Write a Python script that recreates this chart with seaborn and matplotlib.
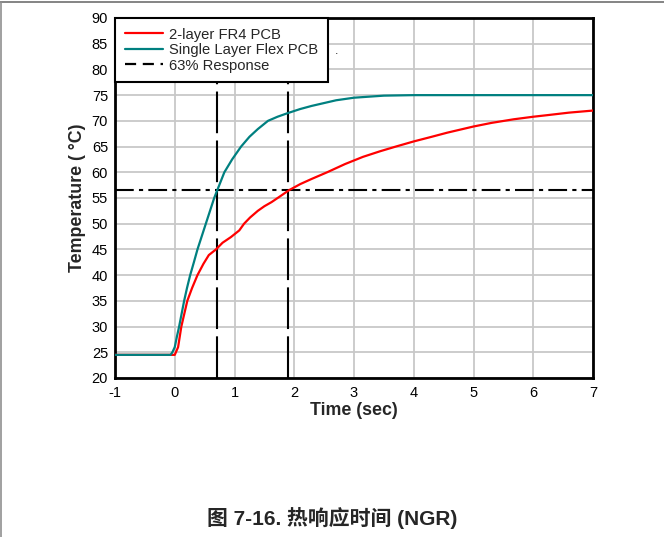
import numpy as np
import pandas as pd
import matplotlib
matplotlib.use("Agg")
import matplotlib.pyplot as plt
import seaborn as sns
from matplotlib.lines import Line2D

# valores
t_fr4 = [-1, 0, 0.056, 0.11, 0.16, 0.21, 0.29, 0.38, 0.48, 0.57, 0.69, 0.8, 0.94, 1.08, 1.16,
         1.26, 1.39, 1.5, 1.62, 1.76, 1.91, 2.1, 2.29, 2.55, 2.85, 3.15, 3.44, 3.7, 4.0,
         4.3, 4.56, 5.0, 5.3, 5.67, 6.0, 6.23, 6.6, 7.0]
temp_fr4 = [24.5, 24.5, 26, 30, 32.5, 35, 37.5, 40, 42.2, 43.9, 45, 46.3, 47.4, 48.7, 50,
            51.2, 52.5, 53.4, 54.2, 55.3, 56.5, 57.7, 58.7, 60.0, 61.6, 63.0, 64.1, 65.0, 66.0,
            66.9, 67.7, 68.9, 69.6, 70.3, 70.8, 71.1, 71.6, 72.0]
t_flex = [-1, -0.07, -0.04, 0.0, 0.035, 0.073, 0.115, 0.157, 0.205, 0.258, 0.32, 0.38,
          0.45, 0.52, 0.59, 0.66, 0.745, 0.83, 0.96, 1.11, 1.25, 1.39, 1.56, 1.72, 1.89,
          2.1, 2.29, 2.7, 3.0, 3.5, 4.0, 7.0]
temp_flex = [24.5, 24.5, 25, 26, 28, 30, 32.5, 35, 37.5, 40, 42.5, 45,
             47.5, 50, 52.5, 55, 57.5, 60, 62.5, 65, 66.9, 68.4, 70.0, 70.8, 71.5,
             72.3, 72.9, 74.0, 74.5, 74.9, 75, 75]
t_63 = [0.703, 1.9]
temp_63 = 56.5

nombres = ["2-layer FR4 PCB", "Single Layer Flex PCB", "63% Response"]
colores = ["#ff0000", "#008080", "black"]

datos = pd.concat([
    pd.DataFrame({"t": t_fr4, "temp": temp_fr4, "serie": nombres[0]}),
    pd.DataFrame({"t": t_flex, "temp": temp_flex, "serie": nombres[1]}),
])

sns.set_style("white")
plt.rcParams['font.family'] = ['Liberation Sans', 'Noto Sans CJK SC', 'DejaVu Sans']
plt.rcParams['axes.unicode_minus'] = False

fig = plt.figure(figsize=(6.64, 5.37), dpi=100)
ax = fig.add_axes([0.1732, 0.2961, 0.7199, 0.6704])

ax.grid(True, color="#c8c8c8", linewidth=1.3)
ax.set_axisbelow(True)

for t in t_63:
    ax.axvline(t, color="black", linewidth=1.5, linestyle=(0, (20, 3.5)), zorder=3)
ax.axhline(temp_63, color="black", linewidth=1.5, linestyle=(0, (9, 2.5, 2, 2.5)), zorder=3)

sns.lineplot(data=datos, x="t", y="temp", hue="serie", palette=colores[:2],
             linewidth=1.6, ax=ax, legend=False, zorder=4)

ax.set_xlim(-1, 7)
ax.set_ylim(20, 90)
ax.set_xticks(range(-1, 8))
ax.set_yticks(range(20, 91, 5))
ax.tick_params(axis="x", length=0, labelsize=10.5, pad=6, colors="black")
ax.tick_params(axis="y", length=0, labelsize=10.5, pad=5, colors="black")
for s in ax.spines.values():
    s.set_visible(True)
    s.set_color("black")
    s.set_linewidth(2)

ax.set_xlabel("Time (sec)", fontsize=12.8, fontweight="bold", labelpad=1)
ax.set_ylabel("Temperature ( °C)", fontsize=12.8, fontweight="bold", labelpad=4)

manejadores = [Line2D([0], [0], color=colores[0], linewidth=1.6),
               Line2D([0], [0], color=colores[1], linewidth=1.6),
               Line2D([0], [0], color="black", linewidth=1.6, linestyle=(0, (5, 3)))]
leyenda = ax.legend(manejadores, nombres, loc="upper left", fontsize=10.6, frameon=True,
                    fancybox=False, framealpha=1, edgecolor="black", borderpad=0.65,
                    labelspacing=0.1, handlelength=2.6, handletextpad=0.45,
                    borderaxespad=0.0)
leyenda.get_frame().set_linewidth(1.5)
leyenda.set_zorder(6)
ax.text(0.46, 0.9, ".", transform=ax.transAxes, fontsize=9)

fig.text(0.5, 0.035, "图 7-16. 热响应时间 (NGR)", ha="center", va="center",
         fontsize=15, fontweight="bold")

# marco de la pagina
fig.add_artist(Line2D([0, 1], [0.996, 0.996], color="#707070", linewidth=1.2))
fig.add_artist(Line2D([0.001, 0.001], [0, 0.996], color="#909090", linewidth=1.2))

fig.savefig("out.png", dpi=100)
plt.close()
